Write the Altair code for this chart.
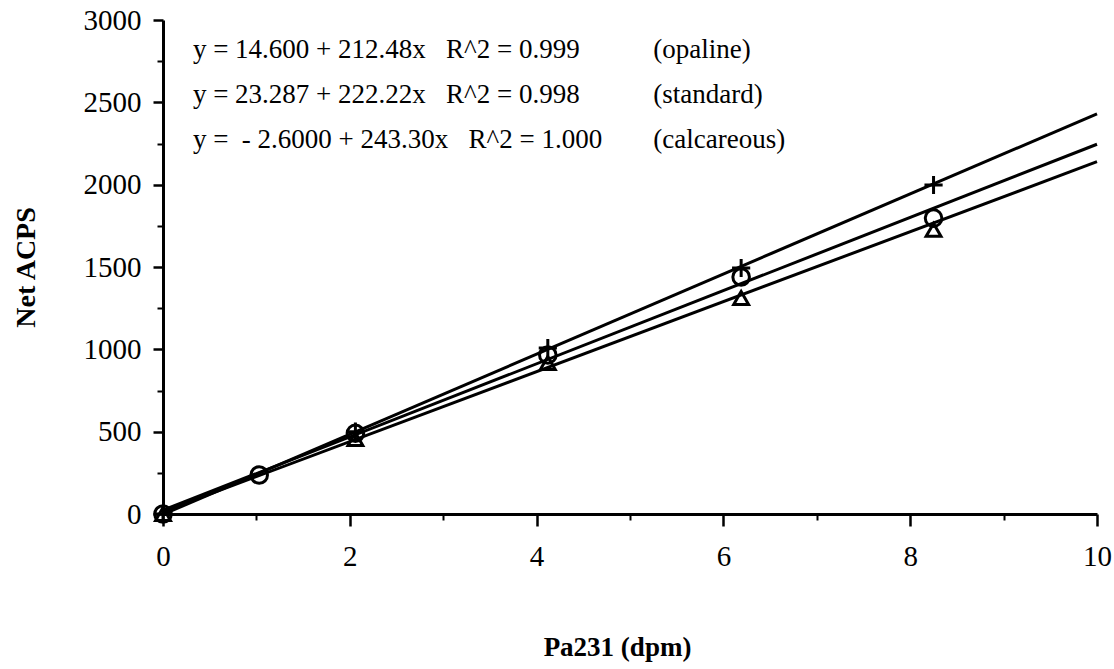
import altair as alt
import pandas as pd

# ---- data ----
calc_x = [0, 2.06, 4.12, 6.19, 8.25]
calc_y = [0, 500, 1008, 1494, 1998]          # plus markers

std_x = [0, 1.03, 2.06, 4.12, 6.19, 8.25]
std_y = [0, 237, 490, 966, 1439, 1797]       # open circles

opal_x = [0, 2.06, 4.12, 6.19, 8.25]
opal_y = [0, 455, 917, 1312, 1725]           # open triangles

fit_names = ["opaline", "standard", "calcareous"]
fit_intercepts = [14.600, 23.287, -2.6000]
fit_slopes = [212.48, 222.22, 243.30]
fit_range = [0, 10]

NB = "\u00a0"
eq_texts = [
    "y = 14.600 + 212.48x" + NB * 3 + "R^2 = 0.999",
    "y = 23.287 + 222.22x" + NB * 3 + "R^2 = 0.998",
    "y =" + NB * 2 + "- 2.6000 + 243.30x" + NB * 3 + "R^2 = 1.000",
]
eq_labels = ["(opaline)", "(standard)", "(calcareous)"]
eq_y = [2818, 2545, 2272]
eq_x = 0.32
lab_x = 5.25

x_major = [0, 2, 4, 6, 8, 10]
x_minor = [1, 3, 5, 7, 9]
y_major = [0, 500, 1000, 1500, 2000, 2500, 3000]
y_minor = [250, 750, 1250, 1750, 2250, 2750]

SERIF = "Liberation Serif"

# ---- tables ----
pts = pd.concat([
    pd.DataFrame({"x": calc_x, "y": calc_y, "s": "calcareous"}),
    pd.DataFrame({"x": std_x, "y": std_y, "s": "standard"}),
    pd.DataFrame({"x": opal_x, "y": opal_y, "s": "opaline"}),
])
line_rows = []
for n, a, b in zip(fit_names, fit_intercepts, fit_slopes):
    for xv in fit_range:
        line_rows.append({"x": xv, "y": a + b * xv, "s": n})
lines = pd.DataFrame(line_rows)
ann = pd.DataFrame({"x": [eq_x] * 3 + [lab_x] * 3,
                    "y": eq_y + eq_y,
                    "t": eq_texts + eq_labels})

xs = alt.Scale(domain=[0, 10], nice=False, zero=False)
ys = alt.Scale(domain=[0, 3000], nice=False, zero=False)

xaxis = alt.Axis(values=x_major, format="d", title="Pa231 (dpm)", grid=False,
                 tickSize=12, tickWidth=2.5, domainWidth=3, labelPadding=16,
                 labelFlush=False, labelBound=False,
                 labelFont=SERIF, labelFontSize=29, labelColor="black",
                 titleFont=SERIF, titleFontSize=27, titleFontWeight="bold",
                 titleX=454, titleY=133, titleBaseline="middle", titleAlign="center",
                 domainColor="black", tickColor="black")
yaxis = alt.Axis(values=y_major, format="d", title="Net ACPS", grid=False,
                 tickSize=10, tickWidth=2.5, domainWidth=3, labelPadding=12,
                 labelFlush=False, labelBound=False,
                 labelFont=SERIF, labelFontSize=29, labelColor="black",
                 titleFont=SERIF, titleFontSize=28, titleFontWeight="bold",
                 titleX=-137, titleY=247, titleAngle=-90,
                 titleBaseline="middle", titleAlign="center",
                 domainColor="black", tickColor="black")

line_layer = alt.Chart(lines).mark_line(color="black", strokeWidth=3).encode(
    x=alt.X("x:Q", scale=xs, axis=xaxis),
    y=alt.Y("y:Q", scale=ys, axis=yaxis),
    detail="s:N",
)

shape_scale = alt.Scale(
    domain=["calcareous", "standard", "opaline"],
    range=["M-1,0L1,0M0,-1L0,1", "circle", "triangle-up"],
)
point_layer = alt.Chart(pts).mark_point(
    filled=False, color="black", strokeWidth=3, opacity=1
).encode(
    x=alt.X("x:Q", scale=xs),
    y=alt.Y("y:Q", scale=ys),
    shape=alt.Shape("s:N", scale=shape_scale, legend=None),
    size=alt.Size("s:N", scale=alt.Scale(domain=["calcareous", "standard", "opaline"],
                                           range=[330, 220, 220]), legend=None),
)

text_layer = alt.Chart(ann).mark_text(
    align="left", baseline="middle", font=SERIF, fontSize=27, color="black"
).encode(
    x=alt.X("x:Q", scale=xs),
    y=alt.Y("y:Q", scale=ys),
    text="t:N",
)

main = alt.layer(line_layer, point_layer, text_layer)

# minor ticks via a second, label-less axis pair
minor_df = pd.DataFrame({"x": x_minor + [0] * len(y_minor),
                         "y": [0] * len(x_minor) + y_minor})
minor = alt.Chart(minor_df).mark_point(opacity=0).encode(
    x=alt.X("x:Q", scale=alt.Scale(domain=[0, 10], nice=False, zero=False),
            axis=alt.Axis(values=x_minor, labels=False, domain=False, grid=False,
                          tickSize=6, tickWidth=2, tickColor="black", title=None,
                          orient="bottom")),
    y=alt.Y("y:Q", scale=alt.Scale(domain=[0, 3000], nice=False, zero=False),
            axis=alt.Axis(values=y_minor, labels=False, domain=False, grid=False,
                          tickSize=6, tickWidth=2, tickColor="black", title=None,
                          orient="left")),
)

chart = alt.layer(main, minor).resolve_scale(
    x="independent", y="independent"
).properties(
    width=934, height=494,
    autosize=alt.AutoSizeParams(type="none"),
    padding={"left": 163, "top": 20, "right": 17, "bottom": 155},
    background="white",
).configure_view(stroke=None)

chart.save("out.html", embed_options={"renderer": "svg", "actions": False})
